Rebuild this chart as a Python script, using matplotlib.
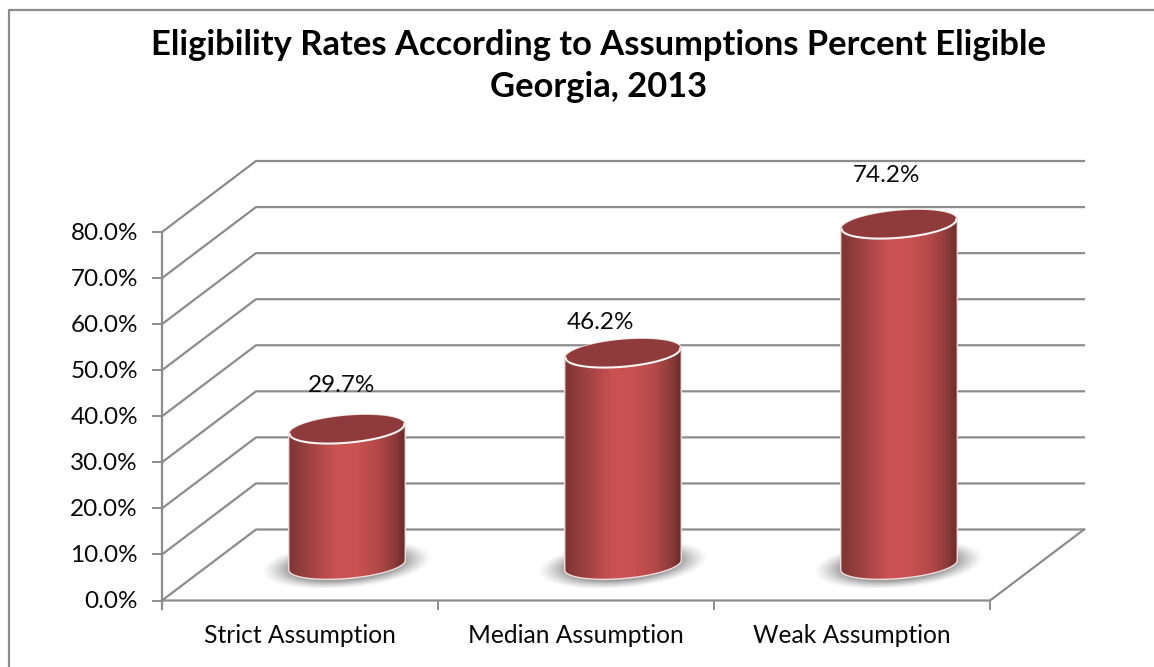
"""Eligibility rates chart, drawn as a fake 3D cylinder column chart."""
import matplotlib
matplotlib.use('Agg')
import matplotlib.pyplot as plt
import numpy as np
from matplotlib.colors import LinearSegmentedColormap
from matplotlib.patches import Polygon

WIDTH, HEIGHT = 1154, 667

TITLE = 'Eligibility Rates According to Assumptions Percent Eligible\nGeorgia, 2013'
CATEGORIES = ['Strict Assumption', 'Median Assumption', 'Weak Assumption']
VALUES = [29.7, 46.2, 74.2]
Y_TICKS = [0, 10, 20, 30, 40, 50, 60, 70, 80]

# plot geometry in reference pixels
LEFT_PX = 162
CAT_PX = 276
ZERO_PX = 600.5
UNIT_PX = 4.606
DEPTH_X_PX = 94
DEPTH_Y_PX = 71
GRID = '#8c8c8c'
FONT = ['Lato', 'DejaVu Sans']

BAR_A = 58.5
BAR_B = 13.5
TILT = np.radians(5)
LABEL_NUDGE = [(-5, -43), (-23, -30), (-12, -48)]


def px_x(dx):
    return dx / CAT_PX


def px_y(dy):
    return dy / UNIT_PX


def ellipse(cx, cy, a, b, t):
    # cx, cy in data units, a and b in pixels, tilted upward to the right
    xs = a * np.cos(t) * np.cos(TILT) - b * np.sin(t) * np.sin(TILT)
    ys = a * np.cos(t) * np.sin(TILT) + b * np.sin(t) * np.cos(TILT)
    return np.column_stack([cx + px_x(xs), cy + px_y(ys)])


def draw_shadow(ax, cx, cy):
    x0, x1 = cx + px_x(-92), cx + px_x(92)
    y0, y1 = cy + px_y(-36), cy + px_y(36)
    xx, yy = np.meshgrid(np.linspace(-92, 92, 240), np.linspace(-36, 36, 100))
    u = (xx * np.cos(TILT) + yy * np.sin(TILT)) / 80
    v = (-xx * np.sin(TILT) + yy * np.cos(TILT)) / 22
    r = np.sqrt(u ** 2 + v ** 2)
    alpha = np.clip((1.08 - r) / 0.38, 0, 1) ** 1.3 * 0.72
    rgba = np.zeros(r.shape + (4,))
    rgba[..., :3] = 0.45
    rgba[..., 3] = alpha
    ax.imshow(rgba, extent=(x0, x1, y0, y1), origin='lower', aspect='auto',
              zorder=2, interpolation='bilinear')


def draw_cylinder(ax, cmap, cx, value):
    # base and lid sit halfway into the floor depth
    base = px_y(DEPTH_Y_PX / 2)
    top = value + base - px_y(1)
    draw_shadow(ax, cx, base)

    low = ellipse(cx, base, BAR_A, BAR_B, np.linspace(np.pi, 2 * np.pi, 80))
    high = ellipse(cx, top, BAR_A, BAR_B, np.linspace(0, np.pi, 80))
    body = Polygon(np.vstack([low, high]), closed=True, facecolor='none',
                   edgecolor='#f0dcdc', lw=1.0, zorder=4)
    ax.add_patch(body)
    grad = np.linspace(0, 1, 256).reshape(1, -1)
    im = ax.imshow(grad, cmap=cmap, aspect='auto', zorder=3,
                   extent=(cx + px_x(-BAR_A), cx + px_x(BAR_A), base - px_y(20), top + px_y(20)))
    im.set_clip_path(body)

    lid = ellipse(cx, top, BAR_A - 1, BAR_B, np.linspace(0, 2 * np.pi, 120))
    ax.add_patch(Polygon(lid, closed=True, facecolor='#8f3b3b', edgecolor='none', zorder=5))
    rim = ellipse(cx, top, BAR_A - 1, BAR_B, np.linspace(np.pi, 2 * np.pi, 80))
    ax.plot(rim[:, 0], rim[:, 1], color='#fbf3f3', lw=1.5, zorder=6)


def main():
    fig = plt.figure(figsize=(WIDTH / 100, HEIGHT / 100), dpi=100)
    ax = fig.add_axes([0, 0, 1, 1])
    ax.axis('off')

    # map data units onto the reference pixel grid
    xlim = (-0.5 - LEFT_PX / CAT_PX, -0.5 + (WIDTH - LEFT_PX) / CAT_PX)
    ylim = (-(HEIGHT - ZERO_PX) / UNIT_PX, ZERO_PX / UNIT_PX)

    dx, dy = px_x(DEPTH_X_PX), px_y(DEPTH_Y_PX)
    x0 = -0.5
    x1 = len(CATEGORIES) - 0.5

    # chart area border
    ax.plot([xlim[0] + px_x(9), xlim[0] + px_x(9), xlim[1]],
            [ylim[0], ylim[1] - px_y(9.5), ylim[1] - px_y(9.5)], color=GRID, lw=1.6, zorder=1)

    # walls and floor
    for t in Y_TICKS:
        ax.plot([x0, x0 + dx, x1 + dx], [t, t + dy, t + dy], color=GRID, lw=1.6, zorder=1)
        ax.plot([x0 - px_x(9), x0], [t, t], color=GRID, lw=1.4, zorder=1)
        ax.text(x0 - px_x(24), t - px_y(1), f'{t:.1f}%', ha='right', va='center',
                fontsize=17.5, family=FONT, color='#0a0a0a')
    ax.plot([x0, x0], [-px_y(8), Y_TICKS[-1]], color=GRID, lw=1.6, zorder=1)
    ax.plot([x0, x1, x1 + dx], [0, 0, dy], color=GRID, lw=1.6, zorder=1)
    for i in range(len(CATEGORIES) + 1):
        ax.plot([x0 + i, x0 + i], [0, -px_y(8)], color=GRID, lw=1.4, zorder=1)

    cmap = LinearSegmentedColormap.from_list('bar', [
        (0.0, '#7f3434'), (0.1, '#8f3c3c'), (0.28, '#b24949'), (0.42, '#cc5353'),
        (0.6, '#c85151'), (0.78, '#b14848'), (0.92, '#8a3939'), (1.0, '#6a2a2a')])

    for i, (name, value) in enumerate(zip(CATEGORIES, VALUES)):
        cx = i + dx / 2
        draw_cylinder(ax, cmap, cx, value)
        nudge = LABEL_NUDGE[i]
        ax.text(cx + px_x(nudge[0]), value + dy / 2 - px_y(nudge[1]), f'{value:.1f}%',
                ha='center', va='center', fontsize=17.5, family=FONT, color='#0a0a0a', zorder=7)
        ax.text(i, -px_y(35), name, ha='center', va='center', fontsize=17.7,
                family=FONT, color='#0a0a0a')

    ax.text(599 / WIDTH, 1 - 66 / HEIGHT, TITLE, transform=ax.transAxes, ha='center', va='center',
            fontsize=24.8, fontweight='bold', family=FONT, color='black', linespacing=1.42)

    ax.set_xlim(xlim)
    ax.set_ylim(ylim)
    fig.savefig('out.png', dpi=100, facecolor='white')
    plt.close(fig)


if __name__ == '__main__':
    main()
